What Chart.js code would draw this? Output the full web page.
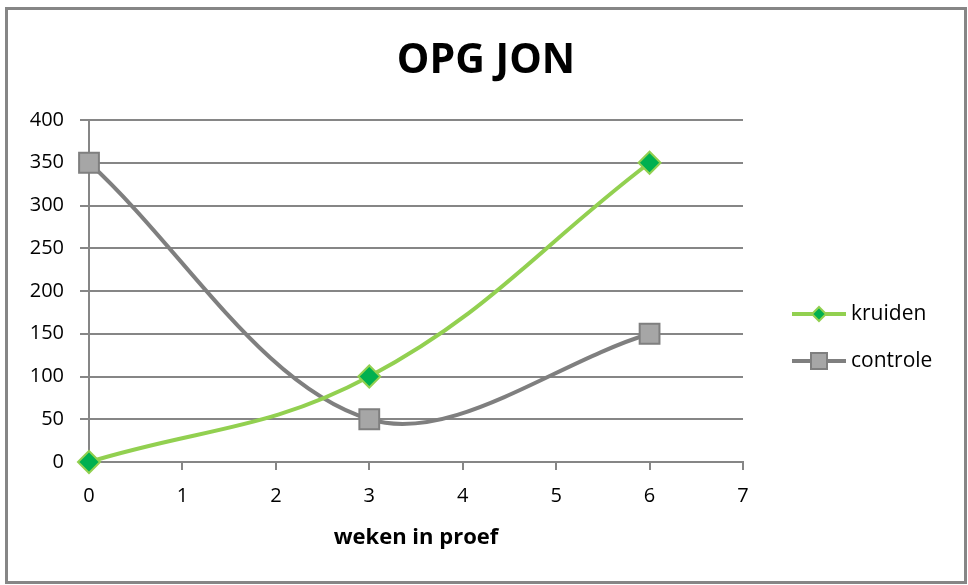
<!doctype html>
<html>
    <head>
        <meta charset="utf-8">
        <title>OPG JON</title>
        <script src="https://cdn.jsdelivr.net/npm/chart.js@4.4.1/dist/chart.umd.min.js"></script>
        <style>
            body{ margin:0; background:#fff; }
            .chartContainer{ width:968px; height:585px; }
        </style>
    </head>
    <body>
        <div class="chartContainer">
            <canvas id="opgChart" width="968" height="585"></canvas>
        </div>

        <script>
        // data
        var weken = [0, 3, 6];
        var kruiden = [0, 100, 350];
        var controle = [350, 50, 150];
        var seriesNames = ['kruiden', 'controle'];
        var chartTitle = 'OPG JON';

        var gridGray = '#868686';
        var font = 'Open Sans';

        function toPoints(xs, ys){
            return xs.map(function(x, i){ return {x: x, y: ys[i]}; });
        }

        // border, title centred on the whole frame, legend at the right (line + marker like excel)
        var frameAndLegend = {
            id: 'frameAndLegend',
            beforeDraw: function(chart){
                var ctx = chart.ctx;
                ctx.save();
                ctx.fillStyle = '#fff';
                ctx.fillRect(0, 0, chart.width, chart.height);
                ctx.strokeStyle = gridGray;
                ctx.lineWidth = 3;
                ctx.strokeRect(6.5, 8.5, 959, 574);
                ctx.restore();
            },
            afterDraw: function(chart){
                var ctx = chart.ctx;
                ctx.save();
                ctx.fillStyle = '#000';
                ctx.font = 'bold 41px "' + font + '"';
                ctx.textAlign = 'center';
                ctx.textBaseline = 'middle';
                ctx.fillText(chartTitle, 486, 61);
                ctx.textAlign = 'left';

                chart.data.datasets.forEach(function(ds, i){
                    var y = 314 + i * 47;
                    ctx.strokeStyle = ds.borderColor;
                    ctx.lineWidth = ds.borderWidth;
                    ctx.beginPath();
                    ctx.moveTo(792, y);
                    ctx.lineTo(846, y);
                    ctx.stroke();
                    ctx.fillStyle = ds.pointBackgroundColor;
                    ctx.strokeStyle = ds.pointBorderColor;
                    ctx.lineWidth = ds.pointBorderWidth;
                    ctx.beginPath();
                    if (ds.pointStyle === 'rectRot') {
                        ctx.moveTo(819, y - 7);
                        ctx.lineTo(826, y);
                        ctx.lineTo(819, y + 7);
                        ctx.lineTo(812, y);
                        ctx.closePath();
                    } else {
                        ctx.rect(811, y - 8, 16, 16);
                    }
                    ctx.fill();
                    ctx.stroke();
                    ctx.fillStyle = '#000';
                    ctx.font = '21px "' + font + '"';
                    ctx.textBaseline = 'middle';
                    ctx.fillText(ds.label, 851, y);
                });
                ctx.restore();
            }
        };

        var opgChart = new Chart(document.getElementById('opgChart'), {
            type: 'scatter',
            data: {
                datasets: [{
                    label: seriesNames[0],
                    data: toPoints(weken, kruiden),
                    showLine: true,
                    clip: false,
                    tension: 0.4,
                    borderColor: '#92D050',
                    borderWidth: 4,
                    pointStyle: 'rectRot',
                    pointRadius: 11,
                    pointBackgroundColor: '#00B050',
                    pointBorderColor: '#92D050',
                    pointBorderWidth: 2
                }, {
                    label: seriesNames[1],
                    data: toPoints(weken, controle),
                    showLine: true,
                    clip: false,
                    tension: 0.34,
                    borderColor: '#7F7F7F',
                    borderWidth: 4,
                    pointStyle: 'rect',
                    pointRadius: 14,
                    pointBackgroundColor: '#A6A6A6',
                    pointBorderColor: '#7F7F7F',
                    pointBorderWidth: 2
                }]
            },
            options: {
                responsive: false,
                animation: false,
                layout: {
                    padding: { left: 12, right: 225, top: 120, bottom: 20 }
                },
                scales: {
                    x: {
                        type: 'linear',
                        min: 0,
                        max: 7,
                        ticks: { stepSize: 1, color: '#000', padding: 14, font: { family: font, size: 20 } },
                        grid: { drawOnChartArea: false, drawTicks: true, tickLength: 8, color: gridGray, lineWidth: 2 },
                        border: { display: true, color: gridGray, width: 2 },
                        title: {
                            display: true,
                            text: 'weken in proef',
                            color: '#000',
                            font: { family: font, size: 22, weight: 'bold' },
                            padding: { top: 0, bottom: 14 }
                        },
                        afterFit: function(scale){ scale.height = 103; }
                    },
                    y: {
                        min: 0,
                        max: 400,
                        ticks: { stepSize: 50, color: '#000', padding: 16, font: { family: font, size: 20 } },
                        grid: { color: gridGray, lineWidth: 2, tickLength: 9 },
                        border: { display: true, color: gridGray, width: 2 },
                        afterFit: function(scale){ scale.width = 77; }
                    }
                },
                plugins: {
                    title: { display: false },
                    legend: { display: false },
                    tooltip: { enabled: false }
                }
            },
            plugins: [frameAndLegend]
        });
        </script>
    </body>
</html>
